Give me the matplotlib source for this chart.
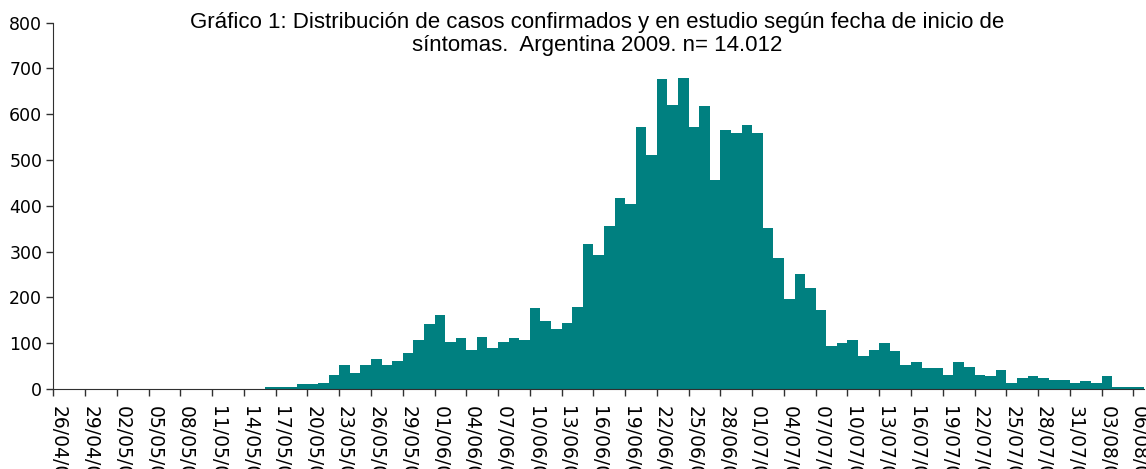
import numpy as np
import pandas as pd
import matplotlib.pyplot as plt

# categorias: dias desde 26/04/09 hasta 06/08/09
fechas = pd.date_range("2009-04-26", "2009-08-06", freq="D")
etiquetas = [d.strftime("%d/%m/%y") for d in fechas]

casos = [
    # 26/04 - 15/05
    0, 0, 0, 0, 0, 0, 0, 0, 0, 0,
    0, 0, 0, 0, 0, 0, 0, 0, 0, 0,
    # 16/05 - 31/05
    4, 4, 4, 11, 11, 13, 30, 52, 35, 52, 65, 52, 61, 79, 107, 142,
    # junio
    162, 103, 111, 85, 113, 89, 103, 111, 107, 177,
    148, 131, 144, 179, 317, 293, 356, 417, 404, 572,
    511, 677, 620, 679, 572, 618, 456, 566, 559, 576,
    # julio
    559, 352, 286, 196, 251, 220, 172, 94, 100, 107,
    72, 85, 100, 83, 52, 59, 46, 46, 31, 59,
    48, 31, 28, 41, 13, 24, 28, 24, 20, 20, 13,
    # agosto
    17, 13, 28, 4, 4, 4,
]

titulo = ("Gráfico 1: Distribución de casos confirmados y en estudio según fecha de inicio de\n"
          "síntomas.  Argentina 2009. n= 14.012")

color_barra = "#008080"

fig = plt.figure(figsize=(11.46, 4.69), dpi=100)
ax = fig.add_axes([53.3 / 1146, 1 - 389 / 469, (1144 - 53.3) / 1146, (389 - 22.7) / 469])

x = np.arange(len(casos))
ax.bar(x, casos, width=1.0, align="edge", color=color_barra, linewidth=0)

ax.set_xlim(0, len(casos))
ax.set_ylim(0, 800)
ax.set_yticks(np.arange(0, 801, 100))

# marcas en los limites de categoria, etiquetas centradas cada 3 dias
ax.set_xticks(np.arange(0, len(casos), 3))
ax.set_xticklabels([])
ax.set_xticks(np.arange(0, len(casos), 3) + 0.5, minor=True)
ax.set_xticklabels(etiquetas[::3], minor=True, rotation=270, ha="center", va="top",
                   fontsize=13.5, family="DejaVu Sans")
ax.tick_params(axis="x", which="major", length=5, width=1, color="#303030")
ax.tick_params(axis="x", which="minor", length=0, pad=12)
ax.tick_params(axis="y", length=5, width=1, color="#303030", pad=3,
               labelsize=12.5)
for t in ax.get_yticklabels():
    t.set_family("DejaVu Sans")

for s in ["top", "right"]:
    ax.spines[s].set_visible(False)
ax.spines["left"].set_color("#303030")
ax.spines["bottom"].set_color("#303030")

fig.text(0.521, 1 - 12 / 469, titulo, ha="center", va="top", fontsize=16,
         family="Liberation Sans", linespacing=1.15)

fig.savefig("out.png", dpi=100)
